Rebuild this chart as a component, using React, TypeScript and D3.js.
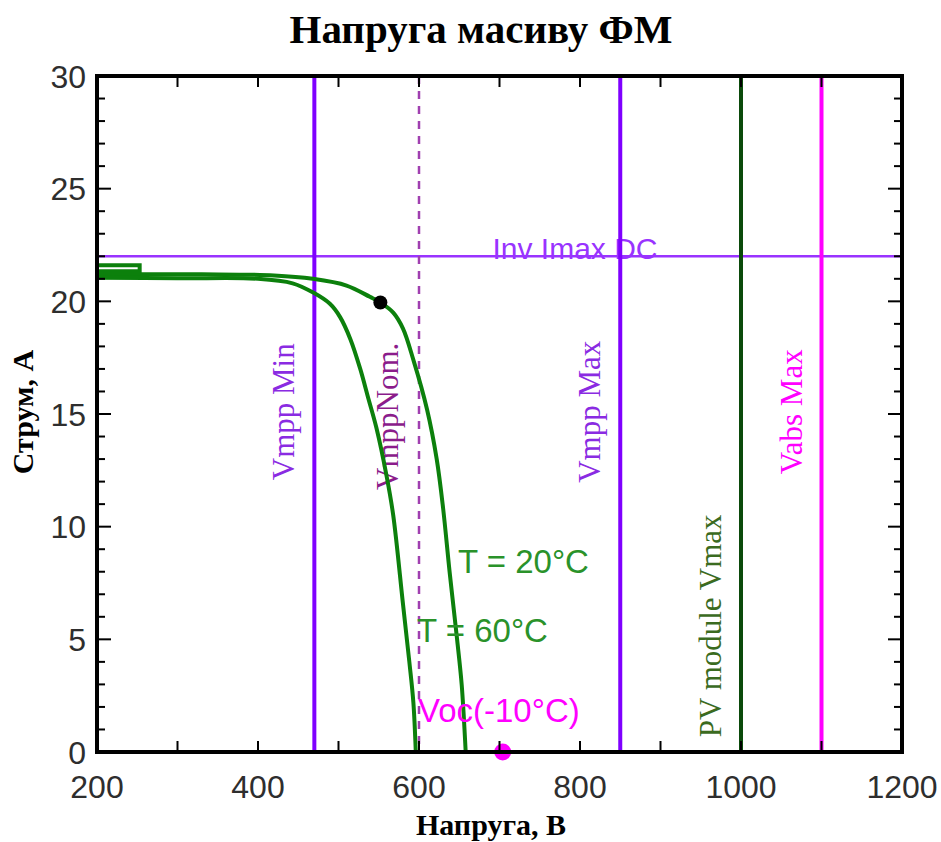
import React from 'react';
import * as d3 from 'd3';

// I-V curves of the PV array (voltage V, current A)
const stubT20: [number, number][] = [
  [200, 21.6], [253, 21.6], [253, 21.33], [200, 21.33],
];
const curveT20: [number, number][] = [
  [200, 21.2], [330, 21.2], [420, 21.15], [468, 21.0], [510, 20.7],
  [539, 20.2], [552, 19.95], [568, 19.5], [580, 18.8], [593, 17.4],
  [610, 15.2], [622, 13.0], [630, 10.8], [638, 8.0], [647, 5.1],
  [653, 3.0], [658, 0],
];
const curveT60: [number, number][] = [
  [200, 21.05], [300, 21.02], [400, 21.0], [443, 20.8], [468, 20.4],
  [489, 19.9], [502, 19.3], [515, 18.3], [527, 17.0], [537, 15.7],
  [547, 14.4], [560, 12.2], [568, 10.5], [580, 6.6], [588, 4.0],
  [593, 2.2], [596, 0],
];
const mppPoint: [number, number] = [552, 19.95];
const vocPoint: [number, number] = [704, 0];

const vLimits = [
  { name: 'Vmpp Min', v: 470, color: '#7f00ff', text: '#8a2be2', dash: '', labelI: 15.1 },
  { name: 'VmppNom.', v: 600, color: '#a040b0', text: '#8b1c8b', dash: '8,7', labelI: 14.9 },
  { name: 'Vmpp Max', v: 850, color: '#7f00ff', text: '#8a2be2', dash: '', labelI: 15.1 },
  { name: 'PV module Vmax', v: 1000, color: '#0b4a0b', text: '#3b6b1f', dash: '', labelI: 5.6 },
  { name: 'Vabs Max', v: 1100, color: '#ff00ff', text: '#ff00ff', dash: '', labelI: 15.1 },
];
const invImaxDC = 22;

const xTicks = [200, 300, 400, 500, 600, 700, 800, 900, 1000, 1100, 1200];
const xTickLabels = [200, 400, 600, 800, 1000, 1200];
const yTicks = d3.range(0, 31, 1);
const yTickLabels = [0, 5, 10, 15, 20, 25, 30];

const W = 941, H = 842;
const m = { left: 97, right: 902, top: 76, bottom: 752 };

export default function App() {
  const x = d3.scaleLinear().domain([200, 1200]).range([m.left, m.right]);
  const y = d3.scaleLinear().domain([0, 30]).range([m.bottom, m.top]);
  const line = d3.line<[number, number]>().x(d => x(d[0])).y(d => y(d[1]));
  const smooth = d3.line<[number, number]>().x(d => x(d[0])).y(d => y(d[1])).curve(d3.curveCatmullRom.alpha(0.5));
  const green = '#0c800c';
  const sans = 'Liberation Sans, Arial, sans-serif';
  const serif = 'Liberation Serif, Times New Roman, serif';

  return (
    <svg width={W} height={H} style={{ position: 'absolute', left: 0, top: 0, background: '#fff' }}>
      <text x={481} y={43} textAnchor="middle" fontFamily={serif} fontWeight="bold" fontSize={41}>Напруга масиву ФМ</text>

      {/* inverter max DC current */}
      <line x1={m.left} x2={m.right} y1={y(invImaxDC)} y2={y(invImaxDC)} stroke="#9933ff" strokeWidth={2.5} />
      <text x={575} y={y(invImaxDC) + 3} textAnchor="middle" fontFamily={sans} fontSize={30} fill="#9933ff">Inv Imax DC</text>

      {vLimits.map(d => (
        <g key={d.name}>
          <line x1={x(d.v)} x2={x(d.v)} y1={m.top} y2={m.bottom} stroke={d.color}
            strokeWidth={d.dash ? 2.5 : 4} strokeDasharray={d.dash || undefined} />
          <text transform={`translate(${x(d.v) - (d.v === 600 ? 21 : 20)},${y(d.labelI)}) rotate(-90)`}
            textAnchor="middle" fontFamily={serif} fontSize={31} fill={d.text}>{d.name}</text>
        </g>
      ))}

      <path d={line(stubT20) || ''} fill="none" stroke={green} strokeWidth={4} />
      <path d={smooth(curveT20) || ''} fill="none" stroke={green} strokeWidth={4} />
      <path d={smooth(curveT60) || ''} fill="none" stroke={green} strokeWidth={4} />
      <circle cx={x(mppPoint[0])} cy={y(mppPoint[1])} r={7} fill="#000" />
      <circle cx={x(vocPoint[0])} cy={y(vocPoint[1])} r={8.5} fill="#ff00ff" />

      <text x={458} y={573} fontFamily={sans} fontSize={33} fill="#2a922a">T = 20°C</text>
      <text x={417} y={642} fontFamily={sans} fontSize={33} fill="#2a922a">T = 60°C</text>
      <text x={418} y={722} fontFamily={sans} fontSize={33} fill="#ff00ff">Voc(-10°C)</text>

      {/* frame and inner ticks */}
      <rect x={m.left} y={m.top} width={m.right - m.left} height={m.bottom - m.top} fill="none" stroke="#000" strokeWidth={4} />
      {xTicks.map(t => (
        <g key={'x' + t} stroke="#000" strokeWidth={2}>
          <line x1={x(t)} x2={x(t)} y1={m.bottom} y2={m.bottom - 11} />
          <line x1={x(t)} x2={x(t)} y1={m.top} y2={m.top + 11} />
        </g>
      ))}
      {yTicks.map(t => {
        const len = t % 5 === 0 ? 14 : 8;
        return (
          <g key={'y' + t} stroke="#000" strokeWidth={2}>
            <line x1={m.left} x2={m.left + len} y1={y(t)} y2={y(t)} />
            <line x1={m.right} x2={m.right - len} y1={y(t)} y2={y(t)} />
          </g>
        );
      })}
      {xTickLabels.map(t => (
        <text key={'xl' + t} x={x(t)} y={798} textAnchor="middle" fontFamily={sans} fontSize={32} fill="#2e2e2e">{t}</text>
      ))}
      {yTickLabels.map(t => (
        <text key={'yl' + t} x={86} y={y(t) + 11.5} textAnchor="end" fontFamily={sans} fontSize={32} fill="#2e2e2e">{t}</text>
      ))}

      <text x={491} y={835} textAnchor="middle" fontFamily={serif} fontWeight="bold" fontSize={30}>Напруга, В</text>
      <text transform={`translate(33,412) rotate(-90)`} textAnchor="middle" fontFamily={serif} fontWeight="bold" fontSize={30}>Струм, А</text>
    </svg>
  );
}
